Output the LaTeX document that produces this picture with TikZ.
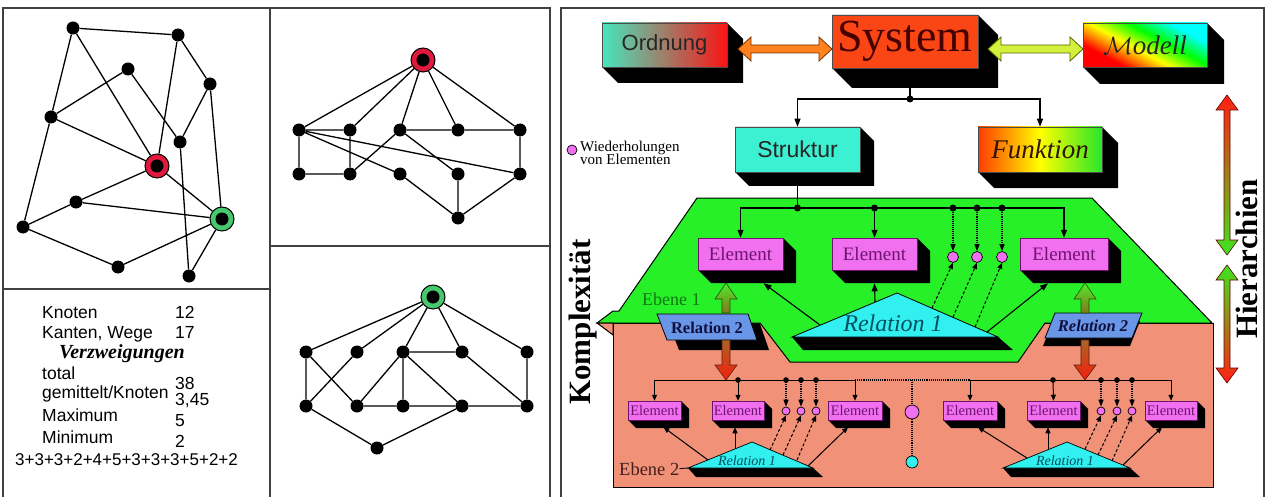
\documentclass[tikz,border=0pt]{standalone}
\usepackage{fontspec}
\setmainfont{Liberation Serif}
\setsansfont{Liberation Sans}
\usetikzlibrary{arrows.meta,calc}
\definecolor{elem}{RGB}{240,112,240}
\definecolor{elemtxt}{RGB}{110,20,110}
\definecolor{grn}{RGB}{40,240,40}
\definecolor{salm}{RGB}{240,145,120}
\definecolor{cyn}{RGB}{50,240,240}
\definecolor{relb}{RGB}{105,150,230}
\definecolor{strk}{RGB}{60,240,210}
\definecolor{sysred}{RGB}{250,70,20}
\definecolor{ordL}{RGB}{70,230,190}
\definecolor{ordR}{RGB}{250,20,20}
\definecolor{funL}{RGB}{255,60,0}
\definecolor{funR}{RGB}{40,230,40}
\definecolor{ringred}{RGB}{225,25,60}
\definecolor{ringgrn}{RGB}{70,200,110}
\definecolor{reltxt}{RGB}{0,80,96}
\definecolor{ebene}{RGB}{16,120,16}
\definecolor{ebtwo}{RGB}{70,30,30}
\pgfdeclarehorizontalshading{modsh}{100bp}{color(0bp)=(red); color(30bp)=(red); color(45bp)=(yellow); color(58bp)=(green); color(72bp)=(cyan); color(100bp)=(cyan)}
\newcommand\fsz[1]{\fontsize{#1}{#1}\selectfont}
\newcommand\tdbox[8]{%
  \fill[black] (#2,#3) -- (#4,#3) -- ({#4+#6},{#3+#6}) -- ({#4+#6},{#5+#6}) -- ({#2+#6},{#5+#6}) -- (#2,#5) -- cycle;
  \node[draw=black!70, line width=0.5pt, #7, minimum width={(#4-#2)*1pt}, minimum height={(#5-#3)*1pt}, inner sep=0pt, anchor=center] (#1) at ({(#2+#4)/2},{(#3+#5)/2}) {#8};
}
\begin{document}
\begin{tikzpicture}[x=1pt,y=-1pt,
  gdot/.style={circle,fill=black,minimum size=13pt,inner sep=0pt},
  gring/.style={circle,draw=black,line width=1pt,minimum size=24pt,inner sep=0pt},
  gline/.style={line width=1.3pt},
  panel/.style={line width=1.5pt,draw=black!75},
  arr/.style={line width=1.1pt,-{Triangle[length=8pt,width=6pt]}},
  sarr/.style={line width=1pt,-{Triangle[length=6pt,width=5pt]}},
  darr/.style={line width=1.1pt,densely dotted,-{Triangle[length=7pt,width=5pt]}},
  dsarr/.style={line width=1pt,dash pattern=on 3pt off 2pt,-{Triangle[length=6pt,width=5pt]}},
  tab/.style={anchor=base west,inner sep=0pt,font=\sffamily\fsz{17.5}},
  elt/.style={fill=elem,text=elemtxt,font=\fsz{19},draw=elemtxt},
  selt/.style={fill=elem,text=elemtxt,font=\fsz{14.5},draw=elemtxt},
  rep/.style={circle,fill=elem,draw=black,line width=0.7pt,inner sep=0pt},
]
\useasboundingbox (0,0) rectangle (1265,497);
\fill[white] (0,0) rectangle (1265,497);

% ---------- panels ----------
\draw[panel] (3,497) -- (3,8) -- (270,8) -- (270,497);
\draw[panel] (3,289) -- (270,289);
\draw[panel] (270,8) -- (550,8) -- (550,497);
\draw[panel] (270,246) -- (550,246);
\draw[panel] (561,497) -- (561,8) -- (1264,8) -- (1264,497);

% ---------- left graph ----------
\foreach \n/\x/\y in {A/73/28, B/178/35, C/128/69, D/210/84, E/51/117, F/180/142, G/76/202, H/23/227, I/118/267, J/189/276}
  \node[gdot] (\n) at (\x,\y) {};
\node[gring,fill=ringred] (R) at (157,166) {};
\node[gdot] (Rc) at (R) {};
\node[gring,fill=ringgrn] (Q) at (222,219) {};
\node[gdot] (Qc) at (Q) {};
\draw[gline] (A)--(B) (A)--(E) (A)--(R) (B)--(R) (B)--(D) (C)--(E) (C)--(F) (D)--(F) (D)--(Q)
  (E)--(R) (E)--(H) (R)--(G) (R)--(Q) (G)--(H) (G)--(Q) (H)--(I) (I)--(Q) (F)--(J) (J)--(Q);

% ---------- table ----------
\node[tab] (t1) at (42,318) {Knoten};
\node[tab] (t1v) at (175,318) {12};
\node[tab] (t2) at (42,338) {Kanten, Wege};
\node[tab] (t2v) at (175,338) {17};
\node[anchor=base,inner sep=0pt,font=\fsz{20}\bfseries\itshape] (t3) at (122,358) {Verzweigungen};
\node[tab] (t4) at (42,379) {total};
\node[tab] (t4v) at (175,389) {38};
\node[tab] (t5) at (42,398) {gemittelt/Knoten};
\node[tab] (t5v) at (175,405) {3,45};
\node[tab] (t6) at (42,421) {Maximum};
\node[tab] (t6v) at (175,426) {5};
\node[tab] (t7) at (42,443) {Minimum};
\node[tab] (t7v) at (175,447) {2};
\node[tab,font=\sffamily\fsz{17}] (t8) at (15,465) {3+3+3+2+4+5+3+3+3+5+2+2};

% ---------- middle top graph ----------
\node[gring,fill=ringred] (T) at (423,60) {};
\node[gdot] (Tc) at (T) {};
\foreach \i/\x in {1/299,2/350,3/400,4/458,5/520} {
  \node[gdot] (ta\i) at (\x,130) {};
  \node[gdot] (tb\i) at (\x,174) {};
}
\node[gdot] (tc) at (458,218) {};
\draw[gline] (T)--(ta1) (T)--(ta2) (T)--(ta3) (T)--(ta4) (T)--(ta5)
  (ta1)--(ta2) (ta3)--(ta4) (ta4)--(ta5) (ta1)--(tb1) (ta2)--(tb2) (ta5)--(tb5)
  (tb1)--(tb2) (ta1)--(tb3) (ta1)--(tb5) (tb2)--(ta3) (ta3)--(tb4)
  (tb3)--(tc) (tb4)--(tc) (tb5)--(tc);

% ---------- middle bottom graph ----------
\node[gring,fill=ringgrn] (U) at (433,297) {};
\node[gdot] (Uc) at (U) {};
\foreach \i/\x in {1/306,2/357,3/403,4/462,5/527} {
  \node[gdot] (pa\i) at (\x,352) {};
  \node[gdot] (pb\i) at (\x,406) {};
}
\node[gdot] (pc) at (377,448) {};
\draw[gline] (U)--(pa1) (U)--(pa2) (U)--(pa3) (U)--(pa4) (U)--(pa5)
  (pa3)--(pa4) (pa1)--(pb1) (pa1)--(pb2) (pa2)--(pb1) (pa3)--(pb2) (pa3)--(pb3)
  (pa3)--(pb4) (pa4)--(pb5) (pa5)--(pb5) (pb2)--(pb3) (pb3)--(pb4) (pb4)--(pb5)
  (pb1)--(pc) (pc)--(pb4);

% ---------- right panel: regions ----------
\filldraw[fill=salm,draw=black,line width=1pt] (613,323) rectangle (1213,487);
\filldraw[fill=grn,draw=black,line width=1pt] (697,198) -- (1092,198) -- (1212,323) -- (1045,323) -- (1018,362)
  -- (790,362) -- (760,323) -- (597,323) -- (613,311) -- (619,311) -- cycle;
\filldraw[fill=salm,draw=black,line width=1pt] (597,323) -- (613,335) -- (613,323) -- cycle;

% ---------- top boxes ----------
\tdbox{Ord}{602}{23}{727}{67}{16}{left color=ordL, right color=ordR, font=\sffamily\fsz{22}, text=black!85}{Ordnung}
\tdbox{Sys}{832}{15}{978}{68}{20}{fill=sysred, font=\fsz{46}, text={rgb,255:red,70;green,0;blue,0}}{System}
\tdbox{Mod}{1083}{23}{1207}{67}{17}{shading=modsh, shading angle=62, font=\fsz{27}\itshape, text=black!85}{$\mathcal{M}$odell}
\tdbox{Str}{735}{127}{860}{172}{14}{fill=strk, font=\sffamily\fsz{23}, text=black!85}{Struktur}
\tdbox{Fun}{978}{127}{1102}{172}{16}{left color=funL, right color=funR, middle color=yellow, font=\fsz{27}\itshape, text={rgb,255:red,50;green,20;blue,0}}{Funktion}

% fat double arrows
\filldraw[fill={rgb,255:red,255;green,130;blue,30}, draw={rgb,255:red,120;green,50;blue,0}, line width=0.8pt]
  (738,49) -- (751,37) -- (751,45) -- (819,45) -- (819,37) -- (832,49) -- (819,61) -- (819,53) -- (751,53) -- (751,61) -- cycle;
\filldraw[fill={rgb,255:red,210;green,240;blue,60}, draw={rgb,255:red,90;green,100;blue,0}, line width=0.8pt]
  (988,49) -- (1001,37) -- (1001,45) -- (1070,45) -- (1070,37) -- (1083,49) -- (1070,61) -- (1070,53) -- (1001,53) -- (1001,61) -- cycle;

% System -> Struktur / Funktion
\coordinate (sysb) at (910,88);
\coordinate (j0) at (910,99);
\draw[line width=1.1pt] (sysb) -- (j0);
\draw[arr] (j0) -| (Str.north);
\draw[arr] (j0) -| (Fun.north);
\fill (j0) circle (3.5pt);

% legend
\node[rep,minimum size=10pt] (leg) at (572,150) {};
\node[anchor=base west,inner sep=0pt,font=\fsz{15}] (leg1) at (580,152) {Wiederholungen};
\node[anchor=base west,inner sep=0pt,font=\fsz{15}] (leg2) at (580,165) {von Elementen};

% ---------- Ebene 1 ----------
\tdbox{E1}{698}{238}{783}{270}{13}{elt}{Element}
\tdbox{E2}{832}{238}{917}{270}{13}{elt}{Element}
\tdbox{E3}{1020}{238}{1108}{270}{13}{elt}{Element}
\node[rep,minimum size=11pt] (c1) at (953,257) {};
\node[rep,minimum size=11pt] (c2) at (977,257) {};
\node[rep,minimum size=11pt] (c3) at (1002,257) {};

\coordinate (strb) at (797.5,186);
\coordinate (j1) at (797.5,208);
\draw[line width=1.1pt] (strb) -- (j1);
\draw[arr] (j1) -| (E1.north);
\draw[arr] (j1) -| (E3.north);
\coordinate (j2) at (E2.north |- j1);
\draw[arr] (j2) -- (E2.north);
\coordinate (k1) at (c1.north |- j1);
\coordinate (k2) at (c2.north |- j1);
\coordinate (k3) at (c3.north |- j1);
\draw[darr] (k1) -- (c1.north);
\draw[darr] (k2) -- (c2.north);
\draw[darr] (k3) -- (c3.north);
\foreach \k in {j1,j2,k1,k2,k3} \fill (\k) circle (3.5pt);

% Relation 1 (Ebene 1)
\fill[black] (792,337) -- (998,337) -- (1013,350) -- (803,350) -- cycle;
\filldraw[fill=cyn,draw=black,line width=0.8pt] (897,293) -- (998,337) -- (792,337) -- cycle;
\node[font=\fsz{24}\itshape,text=reltxt,inner sep=0pt] (rel1) at (893,323) {Relation 1};
\coordinate (r1a) at (820,325);
\coordinate (r1b) at (875,302);
\coordinate (r1c) at (932,308);
\coordinate (r1d) at (953,317);
\coordinate (r1e) at (975,327);
\coordinate (r1f) at (987,332);
\draw[arr] (r1a) -- ($(E1.south)+(23,13)$);
\draw[arr] (r1b) -- ($(E2.south)+(0,13)$);
\draw[dsarr] (r1c) -- (c1.south);
\draw[dsarr] (r1d) -- (c2.south);
\draw[dsarr] (r1e) -- (c3.south);
\draw[arr] (r1f) -- ($(E3.south)+(-16,13)$);

\node[anchor=base west,inner sep=0pt,font=\fsz{18},text=ebene] (eb1) at (642,305) {Ebene 1};

% Relation 2 left
\fill[black] (669,324) -- (760,324) -- (769,350) -- (679,350) -- cycle;
\filldraw[fill=relb,draw=black,line width=0.8pt] (657,314) -- (748,314) -- (757,340) -- (667,340) -- cycle;
\node[font=\fsz{16.5}\bfseries,text={rgb,255:red,16;green,16;blue,60},inner sep=0pt] (rel2L) at (707,328) {Relation 2};
% Relation 2 right
\fill[black] (1053,321) -- (1140,321) -- (1130,346) -- (1043,346) -- cycle;
\filldraw[fill=relb,draw=black,line width=0.8pt] (1055,313) -- (1142,313) -- (1132,338) -- (1045,338) -- cycle;
\node[font=\fsz{16.5}\bfseries\itshape,text={rgb,255:red,16;green,16;blue,60},inner sep=0pt] (rel2R) at (1093,326) {Relation 2};

% green up arrows, red down arrows
\foreach \x in {726,1085} {
  \shadedraw[top color={rgb,255:red,80;green,235;blue,40}, bottom color={rgb,255:red,130;green,120;blue,30}, draw={rgb,255:red,30;green,80;blue,10}, line width=0.6pt]
    (\x-4,313) -- (\x-4,299) -- (\x-11,299) -- (\x,283) -- (\x+11,299) -- (\x+4,299) -- (\x+4,313) -- cycle;
  \shadedraw[top color={rgb,255:red,170;green,100;blue,40}, bottom color={rgb,255:red,245;green,30;blue,10}, draw={rgb,255:red,90;green,30;blue,10}, line width=0.6pt]
    (\x-4,340) -- (\x-4,365) -- (\x-11,365) -- (\x,380) -- (\x+11,365) -- (\x+4,365) -- (\x+4,340) -- cycle;
}

% ---------- Ebene 2 ----------
\tdbox{e21}{628}{401}{681}{420}{8}{selt}{Element}
\tdbox{e22}{712}{401}{764}{420}{8}{selt}{Element}
\tdbox{e23}{828}{401}{882}{420}{8}{selt}{Element}
\tdbox{e24}{943}{401}{997}{420}{8}{selt}{Element}
\tdbox{e25}{1027}{401}{1080}{420}{8}{selt}{Element}
\tdbox{e26}{1145}{401}{1197}{420}{8}{selt}{Element}
\foreach \n/\x in {s1/786,s2/801,s3/816,s4/1101,s5/1117,s6/1132}
  \node[rep,minimum size=8pt] (\n) at (\x,411) {};
\node[rep,minimum size=14pt] (m1) at (912,412) {};
\node[circle,fill=cyn,draw=black,line width=0.7pt,inner sep=0pt,minimum size=12pt] (m2) at (912,462) {};

\coordinate (jb1) at (738,380);
\coordinate (jb2) at (1053,380);
\draw[sarr] (jb1) -| (e21.north);
\draw[sarr] (jb1) -| (e23.north);
\draw[sarr] (jb1) -- (e22.north);
\draw[sarr] (jb2) -| (e24.north);
\draw[sarr] (jb2) -| (e26.north);
\draw[sarr] (jb2) -- (e25.north);
\coordinate (bLend) at (e23.north |- jb1);
\coordinate (bRst) at (e24.north |- jb1);
\coordinate (bmid) at (m1.north |- jb1);
\draw[line width=1.1pt,densely dotted] (bLend) -- (bRst);
\draw[line width=1.1pt,densely dotted] (bmid) -- (m1.north);
\draw[line width=1.1pt,densely dotted] (m1.south) -- (m2.north);
\foreach \s in {s1,s2,s3,s4,s5,s6} {
  \coordinate (q\s) at (\s.north |- jb1);
  \draw[darr] (q\s) -- (\s.north);
  \fill (q\s) circle (2.8pt);
}
\fill (jb1) circle (2.8pt);
\fill (jb2) circle (2.8pt);

% small Relation 1 triangles
\fill[black] (688,468) -- (813,468) -- (823,477) -- (696,477) -- cycle;
\filldraw[fill=cyn,draw=black,line width=0.7pt] (752,442) -- (813,468) -- (688,468) -- cycle;
\node[font=\fsz{14}\itshape,text=reltxt,inner sep=0pt] (rlL) at (747,461) {Relation 1};
\fill[black] (1003,468) -- (1130,468) -- (1140,477) -- (1011,477) -- cycle;
\filldraw[fill=cyn,draw=black,line width=0.7pt] (1067,442) -- (1130,468) -- (1003,468) -- cycle;
\node[font=\fsz{14}\itshape,text=reltxt,inner sep=0pt] (rlR) at (1065,461) {Relation 1};

\draw[sarr] (708,460) -- ($(e21.south)+(9,7)$);
\draw[sarr] (735,449) -- ($(e22.south)+(-3,7)$);
\draw[dsarr] (770,450) -- (s1.south);
\draw[dsarr] (783,455) -- (s2.south);
\draw[dsarr] (797,460) -- (s3.south);
\draw[sarr] (808,466) -- ($(e23.south)+(-7,7)$);

\draw[sarr] (1027,458) -- ($(e24.south)+(8,7)$);
\draw[sarr] (1048,450) -- ($(e25.south)+(-5.5,7)$);
\draw[dsarr] (1085,449) -- (s4.south);
\draw[dsarr] (1098,455) -- (s5.south);
\draw[dsarr] (1112,461) -- (s6.south);
\draw[sarr] (1123,465) -- ($(e26.south)+(-9,7)$);

\node[anchor=base west,inner sep=0pt,font=\fsz{18.5},text=ebtwo] (eb2) at (619,475) {Ebene 2};
\coordinate (tlv) at (688,468);
\draw[line width=0.8pt] (eb2.east) -- (tlv);

% ---------- side labels ----------
\node[rotate=90,anchor=base,inner sep=0pt,font=\fsz{31}\bfseries] (kompl) at (590,322) {Komplexität};
\node[rotate=90,anchor=base,inner sep=0pt,font=\fsz{31}\bfseries] (hier) at (1257,259) {Hierarchien};

\shadedraw[top color={rgb,255:red,255;green,30;blue,20}, bottom color={rgb,255:red,60;green,230;blue,30}, draw=black!60!red, line width=0.6pt]
  (1227,95) -- (1238,110) -- (1230,110) -- (1230,240) -- (1238,240) -- (1227,255) -- (1216,240) -- (1224,240) -- (1224,110) -- (1216,110) -- cycle;
\shadedraw[top color={rgb,255:red,60;green,230;blue,30}, bottom color={rgb,255:red,255;green,30;blue,20}, draw=black!60!red, line width=0.6pt]
  (1227,265) -- (1238,280) -- (1230,280) -- (1230,368) -- (1238,368) -- (1227,383) -- (1216,368) -- (1224,368) -- (1224,280) -- (1216,280) -- cycle;
\end{tikzpicture}
\end{document}
